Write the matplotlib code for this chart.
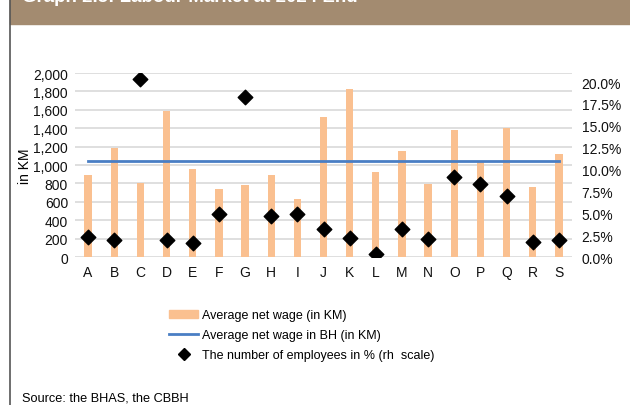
import matplotlib.pyplot as plt
from matplotlib.patches import Rectangle
from matplotlib.lines import Line2D
from matplotlib.ticker import FuncFormatter, MultipleLocator

plt.rcParams['font.family'] = ['Liberation Sans', 'DejaVu Sans']

categories = ['A', 'B', 'C', 'D', 'E', 'F', 'G', 'H', 'I', 'J',
              'K', 'L', 'M', 'N', 'O', 'P', 'Q', 'R', 'S']
avg_wage = [896, 1183, 802, 1590, 955, 737, 780, 886, 628, 1521,
            1826, 929, 1151, 791, 1379, 1034, 1405, 759, 1125]
employees_pct = [2.3, 1.95, 20.3, 1.95, 1.6, 4.9, 18.25, 4.65, 4.9, 3.2,
                 2.2, 0.4, 3.2, 2.05, 9.15, 8.4, 6.95, 1.7, 1.95]
avg_wage_bh = 1042

title = 'Graph 2.5: Labour Market at 2024 End'
source = 'Source: the BHAS, the CBBH'

bar_color = '#FAC090'
line_color = '#4A7EC4'

fig = plt.figure(figsize=(6.3, 4.06), dpi=100)

# banner + frame
fig.patches.append(Rectangle((10 / 630, 1 - 25 / 406), 620 / 630, 25 / 406,
                             transform=fig.transFigure, color='#A38B70', zorder=0))
fig.lines.append(Line2D([10 / 630, 10 / 630], [0, 1], transform=fig.transFigure,
                        color='#555555', lw=1.2))
# title sits mostly above the top edge, as in the cropped original
fig.text(22 / 630, 1 - 2 / 406, title, color='white', fontsize=13.5, fontweight='bold',
         va='baseline', ha='left')

ax = fig.add_axes([75 / 630, 1 - 258 / 406, 497 / 630, 184 / 406])
x = list(range(len(categories)))
ax.bar(x, avg_wage, width=0.28, color=bar_color, zorder=2)
ax.plot([x[0], x[-1]], [avg_wage_bh, avg_wage_bh], color=line_color, lw=2, zorder=3)
ax.set_xlim(-0.5, len(categories) - 0.5)
ax.set_ylim(0, 2000)
ax.yaxis.set_major_locator(MultipleLocator(200))
ax.yaxis.set_major_formatter(FuncFormatter(lambda v, p: f'{int(v):,}'))
ax.set_xticks(x)
ax.set_xticklabels(categories)
ax.grid(axis='y', color='#D9D9D9', lw=1.2, zorder=0)
ax.set_axisbelow(True)
for s in ax.spines.values():
    s.set_visible(False)
ax.tick_params(length=0, labelsize=10, colors='#111111', pad=5)
ax.tick_params(axis='x', pad=6)
ax.set_ylabel('in KM', fontsize=10, labelpad=1)

ax2 = ax.twinx()
ax2.scatter(x, employees_pct, marker='D', s=55, color='black', zorder=4)
ax2.set_ylim(0, 21.03)
ax2.set_yticks([0, 2.5, 5, 7.5, 10, 12.5, 15, 17.5, 20])
ax2.yaxis.set_major_formatter(FuncFormatter(lambda v, p: f'{v:.1f}%'))
for s in ax2.spines.values():
    s.set_visible(False)
ax2.tick_params(length=0, labelsize=10, colors='#111111', pad=7)

handles = [
    Rectangle((0, 0), 1, 1, color=bar_color),
    Line2D([], [], color=line_color, lw=2),
    Line2D([], [], marker='D', color='black', linestyle='none', markersize=6.5),
]
labels = ['Average net wage (in KM)', 'Average net wage in BH (in KM)',
          'The number of employees in % (rh  scale)']
fig.legend(handles, labels, loc='upper left', bbox_to_anchor=(163 / 630, 1 - 304 / 406),
           frameon=False, fontsize=9, handlelength=2.3, handleheight=0.6,
           handletextpad=0.3, labelspacing=0.62, borderpad=0)

fig.text(22 / 630, 1 - 402 / 406, source, fontsize=9.2, ha='left', va='baseline')

fig.savefig('out.png', dpi=100)
